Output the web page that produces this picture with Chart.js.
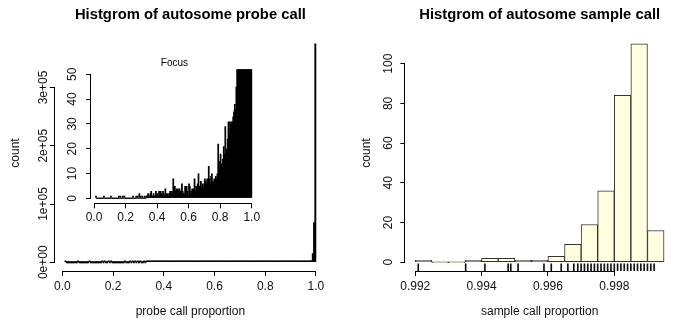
<!DOCTYPE html>
<html>
<head>
<meta charset="utf-8">
<script src="https://cdn.jsdelivr.net/npm/chart.js@4.4.1/dist/chart.umd.min.js"></script>
<style>
  body { margin: 0; background: #fff; }
  #wrap { position: relative; width: 674px; height: 324px; overflow: hidden; }
  canvas { position: absolute; }
</style>
</head>
<body>
<div id="wrap">
  <canvas id="probe" width="337" height="324" style="left:0;top:0"></canvas>
  <canvas id="focus" width="210" height="179" style="left:60px;top:51px"></canvas>
  <canvas id="sample" width="337" height="324" style="left:337px;top:0"></canvas>
</div>
<script>
// probe call histogram, bins of 0.005 starting at 0.010
var probeBinStart = 0.01;
var probeBinWidth = 0.005;
var probeCounts = [
  1, 0, 0, 0, 0, 0, 0, 0, 0, 0,
  1, 0, 0, 0, 0, 0, 0, 0, 0, 1,
  0, 0, 0, 0, 0, 0, 0, 0, 0, 1,
  0, 1, 0, 0, 1, 0, 1, 0, 0, 0,
  0, 0, 0, 0, 0, 0, 0, 1, 0, 0,
  0, 1, 0, 1, 0, 2, 0, 1, 0, 1,
  0, 0, 1, 0, 1, 1, 2, 1, 1, 2,
  3, 1, 1, 2, 1, 1, 3, 1, 2, 1,
  3, 1, 3, 2, 1, 3, 2, 1, 4, 2,
  1, 2, 1, 2, 3, 2, 3, 2, 8, 5,
  5, 3, 4, 3, 4, 2, 4, 3, 2, 6,
  3, 2, 2, 5, 1, 5, 3, 1, 6, 5,
  2, 3, 4, 3, 4, 8, 3, 5, 4, 6,
  10, 5, 4, 7, 5, 6, 4, 6, 8, 7,
  6, 8, 7, 13, 8, 6, 9, 10, 7, 7,
  8, 7, 9, 8, 10, 22, 15, 12, 18, 14,
  12, 16, 21, 18, 29, 20, 18, 24, 31, 26,
  31, 30, 31, 31, 33, 35, 38, 36, 45, 60,
  72, 85, 98, 115, 132, 150, 172, 195, 225, 260,
  310, 380, 520, 1200, 3000, 15000, 68000, 375000
];
var probeXTicks = [0, 0.2, 0.4, 0.6, 0.8, 1.0];
var probeYTicks = [0, 100000, 200000, 300000];
var probeYLabels = ["0e+00", "1e+05", "2e+05", "3e+05"];
var focusYTicks = [0, 10, 20, 30, 40, 50];

// sample call histogram
var sampleBreaks = [0.992, 0.9925, 0.993, 0.9935, 0.994, 0.9945, 0.995, 0.9955,
  0.996, 0.9965, 0.997, 0.9975, 0.998, 0.9985, 0.999, 0.9995];
var sampleCounts = [1, 0, 0, 1, 2, 2, 1, 1, 3, 9, 19, 36, 84, 110, 16];
var sampleRug = [0.99209, 0.99352, 0.99410, 0.99480, 0.99488, 0.99510, 0.99588,
  0.99610, 0.99640, 0.99660, 0.99678, 0.99690, 0.99700, 0.99710, 0.99720,
  0.99730, 0.99740, 0.99750, 0.99760, 0.99770, 0.99780, 0.99790, 0.99800,
  0.99810, 0.99820, 0.99830, 0.99840, 0.99850, 0.99860, 0.99870, 0.99880,
  0.99890, 0.99900, 0.99910, 0.99920];
var sampleXTicks = [0.992, 0.994, 0.996, 0.998];
var sampleYTicks = [0, 20, 40, 60, 80, 100];

var axisColor = "#000";
var textColor = "#111";
Chart.defaults.font.family = "'Liberation Sans', Arial, Helvetica, sans-serif";
Chart.defaults.font.size = 12;
Chart.defaults.color = textColor;

var probeData = probeCounts.map(function (c, i) {
  return { x: probeBinStart + probeBinWidth * (i + 0.5), y: c };
});
var sampleData = sampleCounts.map(function (c, i) {
  return { x: (sampleBreaks[i] + sampleBreaks[i + 1]) / 2, y: c };
});

// R style axes: line only between first and last tick, rotated y labels
var rAxes = {
  id: "rAxes",
  afterDraw: function (chart, args, o) {
    var ctx = chart.ctx, area = chart.chartArea;
    var xs = chart.scales.x, ys = chart.scales.y;
    var x0 = xs.getPixelForValue(xs.ticks[0].value);
    var x1 = xs.getPixelForValue(xs.ticks[xs.ticks.length - 1].value);
    var y0 = ys.getPixelForValue(ys.ticks[0].value);
    var y1 = ys.getPixelForValue(ys.ticks[ys.ticks.length - 1].value);
    var yb = Math.round(area.bottom) + 0.5;
    var xl = Math.round(area.left) - 0.5;
    ctx.save();
    ctx.strokeStyle = axisColor;
    ctx.lineWidth = 1;
    ctx.beginPath();
    ctx.moveTo(x0, yb);
    ctx.lineTo(x1, yb);
    ctx.moveTo(xl, y0);
    ctx.lineTo(xl, y1);
    ctx.stroke();
    ctx.fillStyle = textColor;
    ctx.font = "12px 'Liberation Sans', Arial, sans-serif";
    ctx.textAlign = "center";
    ctx.textBaseline = "alphabetic";
    ys.ticks.forEach(function (t, i) {
      ctx.save();
      ctx.translate(o.labelX, ys.getPixelForValue(t.value));
      ctx.rotate(-Math.PI / 2);
      ctx.fillText(o.labels ? o.labels[i] : String(t.value), 0, 0);
      ctx.restore();
    });
    ctx.restore();
  }
};

function xAxis(min, max, ticks, digits, title, height, pad, titlePad) {
  return {
    type: "linear", min: min, max: max, offset: false,
    afterBuildTicks: function (s) { s.ticks = ticks.map(function (v) { return { value: v }; }); },
    afterFit: function (s) { s.height = height; },
    border: { display: false },
    grid: { offset: false, drawOnChartArea: false, tickLength: 5, color: axisColor },
    ticks: { autoSkip: false, maxRotation: 0, padding: pad,
      callback: function (v) { return v.toFixed(digits); } },
    title: { display: !!title, text: title, padding: { top: 0, bottom: titlePad } }
  };
}

function yAxis(min, max, ticks, title, width, titlePad) {
  return {
    type: "linear", min: min, max: max,
    afterBuildTicks: function (s) { s.ticks = ticks.map(function (v) { return { value: v }; }); },
    afterFit: function (s) { s.width = width; },
    border: { display: false },
    grid: { drawOnChartArea: false, tickLength: 5, color: axisColor },
    ticks: { display: false },
    title: { display: !!title, text: title, padding: { top: titlePad, bottom: 0 } }
  };
}

function titleOpts(text, size, bold, top, bottom) {
  return { display: true, fullSize: false, text: text, color: "#000",
    font: { size: size, weight: bold ? "bold" : "normal", lineHeight: 1.2 },
    padding: { top: top, bottom: bottom } };
}

// main probe histogram
new Chart(document.getElementById("probe"), {
  type: "bar",
  data: { datasets: [{ data: probeData, backgroundColor: "#000", borderWidth: 0,
    barPercentage: 1, categoryPercentage: 1, minBarLength: 1.5 }] },
  options: {
    responsive: false, animation: false, events: [],
    layout: { padding: { left: 0, right: 11, top: 0, bottom: 0 } },
    plugins: { legend: { display: false }, tooltip: { enabled: false },
      title: titleOpts("Histgrom of autosome probe call", 14.8, true, 5.6, 11.7),
      rAxes: { labelX: 46.7, labels: probeYLabels } },
    scales: {
      x: xAxis(-0.0296, 1.0396, probeXTicks, 1, "probe call proportion", 53, 3, 5.3),
      y: yAxis(-15000, 390000, probeYTicks, "count", 54.8, 8.3)
    }
  },
  plugins: [rAxes]
});

// inset, focus on 0..50
new Chart(document.getElementById("focus"), {
  type: "bar",
  data: { datasets: [{ data: probeData, backgroundColor: "#000", borderWidth: 0,
    barPercentage: 2.2, categoryPercentage: 1, minBarLength: 1 }] },
  options: {
    responsive: false, animation: false, events: [],
    layout: { padding: { left: 0, right: 12.1, top: 0, bottom: 0 } },
    plugins: { legend: { display: false }, tooltip: { enabled: false },
      title: titleOpts("Focus", 10, false, 6.3, 0),
      rAxes: { labelX: 16 } },
    scales: {
      x: xAxis(-0.0192, 1.0392, probeXTicks, 1, "", 26.7, 2.5, 0),
      y: yAxis(-2, 52, focusYTicks, "", 31, 0)
    }
  },
  plugins: [rAxes]
});

// sample histogram with rug
var sampleYMin = -4.4, sampleYMax = 114.4;
var rugTop = sampleYMin + 0.03 * (sampleYMax - sampleYMin);
new Chart(document.getElementById("sample"), {
  type: "bar",
  data: { datasets: [
    { data: sampleData, backgroundColor: "#FFFFE0", borderColor: "#333", borderWidth: 1,
      borderSkipped: false, barPercentage: 1, categoryPercentage: 1, minBarLength: 1, grouped: false },
    { data: sampleRug.map(function (v) { return { x: v, y: [sampleYMin, rugTop] }; }),
      xAxisID: "xr", backgroundColor: "#111", borderWidth: 0, barThickness: 1, grouped: false }
  ] },
  options: {
    responsive: false, animation: false, events: [],
    layout: { padding: 0 },
    plugins: { legend: { display: false }, tooltip: { enabled: false },
      title: titleOpts("Histgrom of autosome sample call", 14.8, true, 5.6, 11.7),
      rAxes: { labelX: 55 } },
    scales: {
      x: xAxis(0.9917, 0.9998, sampleXTicks, 3, "sample call proportion", 53, 3, 5.3),
      xr: { type: "linear", min: 0.9917, max: 0.9998, offset: false, display: false },
      y: yAxis(sampleYMin, sampleYMax, sampleYTicks, "count", 68.3, 22.8)
    }
  },
  plugins: [rAxes]
});
</script>
</body>
</html>
